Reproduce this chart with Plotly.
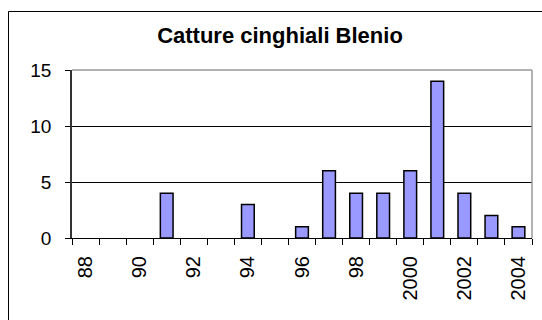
import plotly.graph_objects as go

# Wild boar captures per year in the Blenio valley
years = [1988, 1989, 1990, 1991, 1992, 1993, 1994, 1995, 1996,
         1997, 1998, 1999, 2000, 2001, 2002, 2003, 2004]
catture = [0, 0, 0, 4, 0, 0, 3, 0, 1, 6, 4, 4, 6, 14, 4, 2, 1]

label_years = [1988, 1990, 1992, 1994, 1996, 1998, 2000, 2002, 2004]
label_text = ["88", "90", "92", "94", "96", "98", "2000", "2002", "2004"]

FONT = "Liberation Sans, Arial, sans-serif"

# empty years get no outline, so nothing shows on the axis
outline = [1.5 if v > 0 else 0 for v in catture]

fig = go.Figure(
    go.Bar(
        x=years,
        y=catture,
        marker=dict(color="#9999FF", line=dict(color="black", width=outline)),
    )
)

# category boundaries for the small tick marks under the axis
bounds = [y - 0.5 for y in years] + [years[-1] + 0.5]

fig.update_layout(
    width=542,
    height=320,
    margin=dict(l=72, r=10, t=70, b=82),
    paper_bgcolor="white",
    plot_bgcolor="white",
    bargap=0.53,
    showlegend=False,
    title=dict(
        text="<b>Catture cinghiali Blenio</b>",
        font=dict(family=FONT, size=22, color="black"),
        x=280 / 542,
        xanchor="center",
        xref="container",
        y=1 - 35.5 / 320,
        yanchor="middle",
        yref="container",
    ),
    xaxis=dict(
        range=[years[0] - 0.5, years[-1] + 0.5],
        tickmode="array",
        tickvals=label_years,
        ticktext=label_text,
        tickangle=-90,
        ticks="",
        ticklabelstandoff=9,
        tickfont=dict(family=FONT, size=20, color="black"),
        showgrid=False,
        zeroline=False,
        showline=True,
        linecolor="black",
        linewidth=1,
        minor=dict(tickmode="array", tickvals=bounds, ticks="outside",
                   ticklen=6, tickcolor="black", tickwidth=1, showgrid=False),
    ),
    yaxis=dict(
        range=[0, 15],
        tickmode="array",
        tickvals=[0, 5, 10, 15],
        ticks="outside",
        ticklen=5,
        tickcolor="black",
        tickfont=dict(family=FONT, size=19, color="black"),
        ticklabelstandoff=10,
        showgrid=True,
        gridcolor="black",
        gridwidth=1,
        zeroline=False,
        showline=True,
        linecolor="#333333",
        linewidth=1.5,
    ),
    shapes=[
        # grey frame on the top and right of the plot area
        dict(type="line", xref="x domain", yref="y domain", x0=0, x1=1, y0=1, y1=1,
             line=dict(color="#999999", width=1.5), layer="above"),
        dict(type="line", xref="x domain", yref="y domain", x0=1, x1=1, y0=0, y1=1,
             line=dict(color="#999999", width=1.5), layer="above"),
        # outer chart border
        dict(type="rect", xref="paper", yref="paper",
             x0=(8.5 - 72) / 460, x1=1.2, y0=-1.0, y1=(238 - 11.5) / 168,
             line=dict(color="black", width=1), fillcolor="rgba(0,0,0,0)"),
    ],
)

fig.write_html("out.html")
